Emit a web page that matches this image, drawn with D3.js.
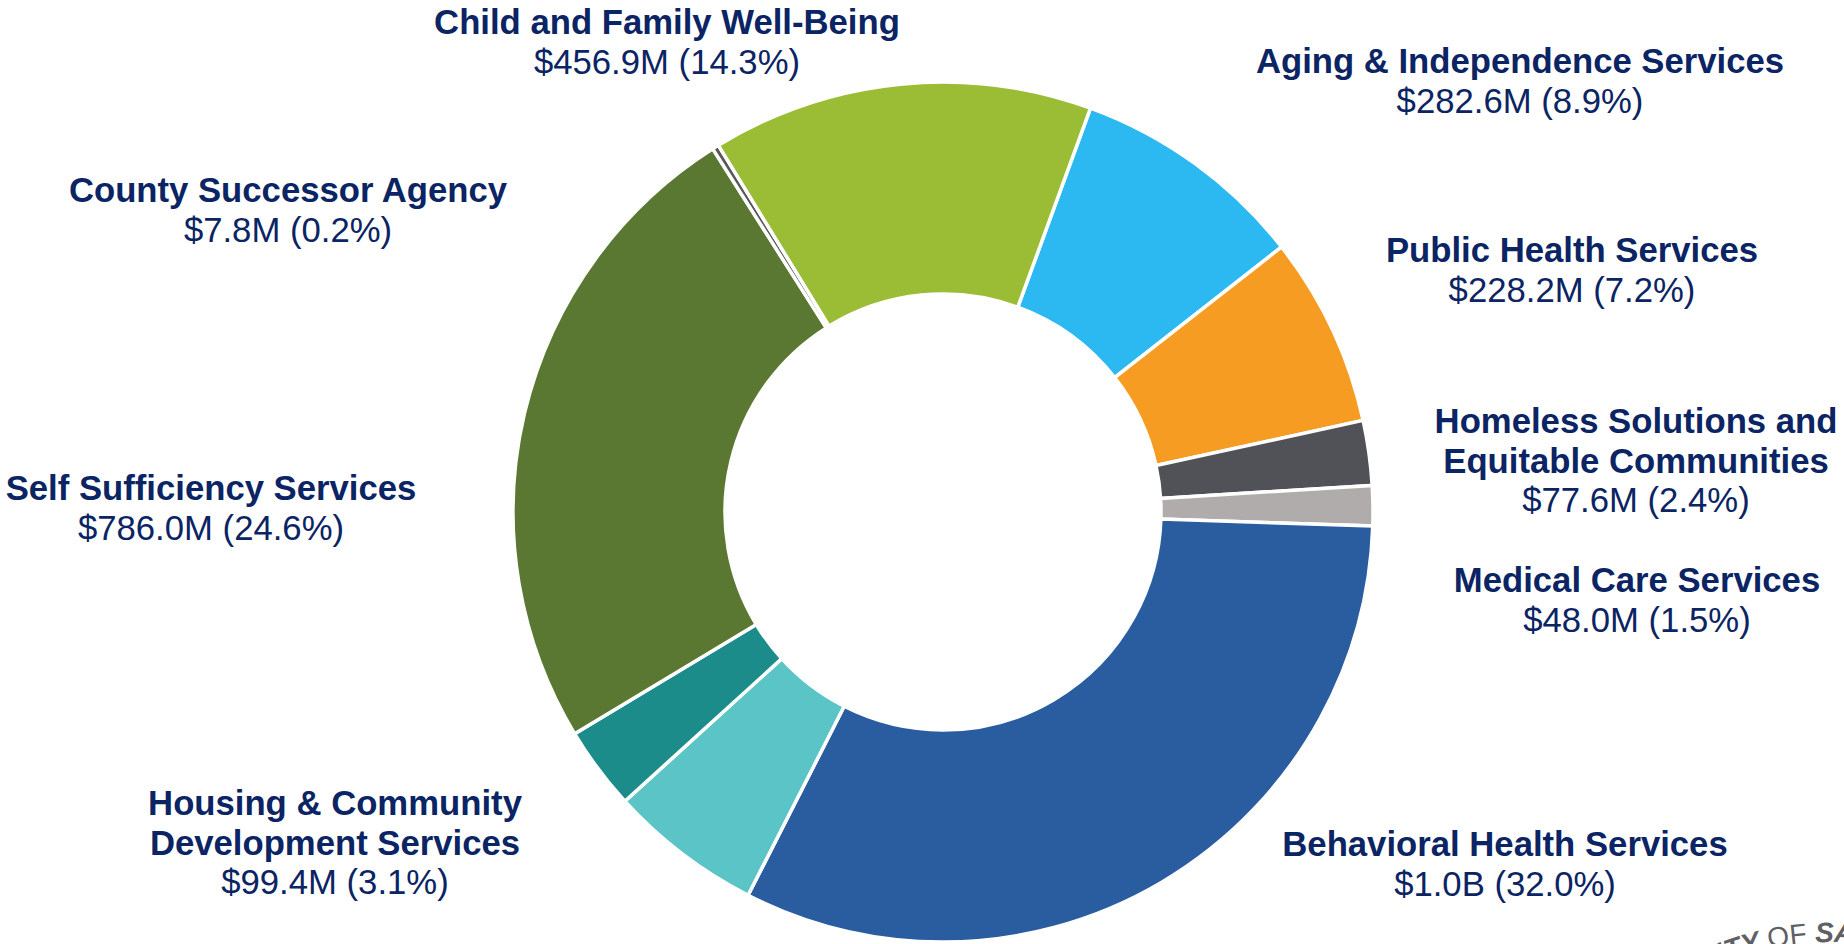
<!DOCTYPE html>
<html>
  <head>
    <meta charset="utf-8">
    <title>HHSA budget by department</title>
    <script src="https://cdn.jsdelivr.net/npm/d3@7"></script>
    <style>
      body { margin: 0; background: #fff; }
      #chart { display: block; }
      .label text { font-family: "Liberation Sans", Arial, sans-serif; font-size: 34.7px; fill: #0b2463; }
      .label .name { font-weight: bold; }
      #seal { font-family: "Liberation Sans", Arial, sans-serif; font-size: 28px; fill: #5f6064; }
    </style>
  </head>

  <body>
    <svg id="chart" width="1844" height="944"></svg>

    <script>
      // data, clockwise from the Aging slice ($ millions)
      departments = [
        "Aging & Independence Services",
        "Public Health Services",
        "Homeless Solutions and Equitable Communities",
        "Medical Care Services",
        "Behavioral Health Services",
        "",
        "Housing & Community Development Services",
        "Self Sufficiency Services",
        "County Successor Agency",
        "Child and Family Well-Being"
      ];
      amounts = [282.6, 228.2, 77.6, 48.0, 1020.0, 184.0, 99.4, 786.0, 7.8, 456.9];
      amountLabels = ["$282.6M", "$228.2M", "$77.6M", "$48.0M", "$1.0B", "", "$99.4M", "$786.0M", "$7.8M", "$456.9M"];
      shareLabels = ["8.9%", "7.2%", "2.4%", "1.5%", "32.0%", "", "3.1%", "24.6%", "0.2%", "14.3%"];
      colours = ["#2cb8f0", "#f69c22", "#515257", "#afacab", "#2a5ca0", "#5bc4c6", "#1b8c8a", "#5a7831", "#58585b", "#9bbd35"];

      // label anchors (centre x, first baseline) and how the name wraps
      labelPlaces = {
        "Aging & Independence Services": { x: 1520, y: 73, lines: ["Aging & Independence Services"] },
        "Public Health Services": { x: 1572, y: 262, lines: ["Public Health Services"] },
        "Homeless Solutions and Equitable Communities": { x: 1636, y: 433, lines: ["Homeless Solutions and", "Equitable Communities"] },
        "Medical Care Services": { x: 1637, y: 592, lines: ["Medical Care Services"] },
        "Behavioral Health Services": { x: 1505, y: 856, lines: ["Behavioral Health Services"] },
        "Housing & Community Development Services": { x: 335, y: 815, lines: ["Housing & Community", "Development Services"] },
        "Self Sufficiency Services": { x: 211, y: 500, lines: ["Self Sufficiency Services"] },
        "County Successor Agency": { x: 288, y: 202, lines: ["County Successor Agency"] },
        "Child and Family Well-Being": { x: 667, y: 34, lines: ["Child and Family Well-Being"] }
      };

      svg = d3.select("#chart");
      cx = 943;
      cy = 512;
      outer = 430;
      inner = 218;
      lineGap = 39.5;

      start = 20.06 * Math.PI / 180;
      pie = d3.pie()
        .sort(null)
        .startAngle(start)
        .endAngle(start + 2 * Math.PI);

      arc = d3.arc()
        .innerRadius(inner)
        .outerRadius(outer);

      rows = departments.map(function(d, i) {
        return { name: d, amount: amounts[i], money: amountLabels[i], share: shareLabels[i], colour: colours[i] };
      });

      donut = svg.append("g")
        .attr("transform", "translate(" + cx + "," + cy + ")");

      donut.selectAll("path")
        .data(pie.value(function(d) { return d.amount; })(rows))
        .enter().append("path")
          .attr("d", arc)
          .style("fill", function(d) { return d.data.colour; })
          .style("stroke", "#fff")
          .style("stroke-width", 3.5)
          .style("stroke-linejoin", "miter");

      // labels
      labels = svg.selectAll(".label")
        .data(rows.filter(function(d) { return d.name; }))
        .enter().append("g")
          .classed("label", true);

      labels.each(function(d) {
        let place = labelPlaces[d.name];
        let g = d3.select(this);
        place.lines.forEach(function(line, k) {
          g.append("text")
            .classed("name", true)
            .attr("x", place.x)
            .attr("y", place.y + k * lineGap)
            .attr("text-anchor", "middle")
            .text(line);
        });
        g.append("text")
          .attr("x", place.x)
          .attr("y", place.y + place.lines.length * lineGap)
          .attr("text-anchor", "middle")
          .text(d.money + " (" + d.share + ")");
      });

      // corner of the county seal, cut off by the frame
      sealR = 300;
      sealX = 1830;
      sealY = 1242;
      svg.append("path")
        .attr("id", "sealArc")
        .attr("d", "M" + (sealX - sealR) + "," + sealY + " A" + sealR + "," + sealR + " 0 0 1 " + (sealX + sealR) + "," + sealY)
        .style("fill", "none");

      seal = svg.append("text")
        .attr("id", "seal")
        .append("textPath")
          .attr("href", "#sealArc")
          .attr("startOffset", 284);
      seal.append("tspan")
        .style("font-weight", "bold")
        .style("font-style", "italic")
        .text("COUNTY ");
      seal.append("tspan")
        .text("OF ");
      seal.append("tspan")
        .style("font-weight", "bold")
        .style("font-style", "italic")
        .text("SAN DIEGO");
    </script>
  </body>
</html>
